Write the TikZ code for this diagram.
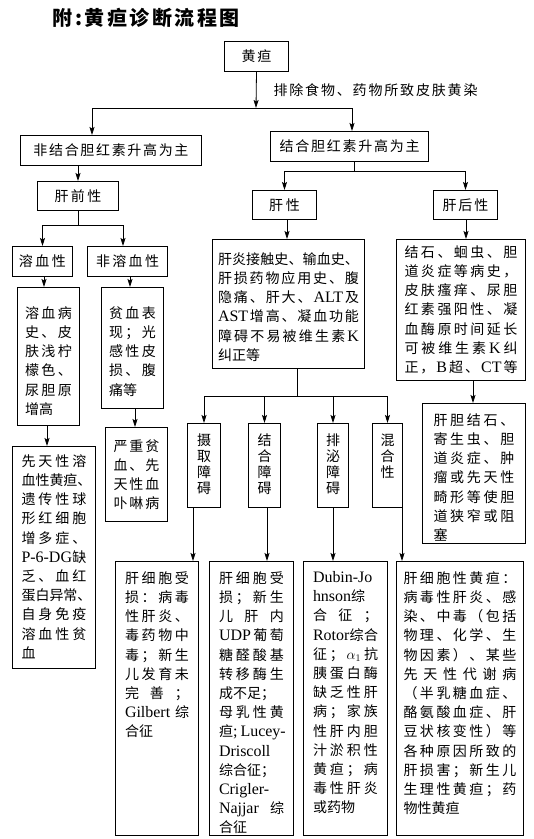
\documentclass[tikz,border=0pt]{standalone}
\usepackage{fontspec}
\setmainfont{Noto Sans CJK SC}
\newfontfamily\lat{Liberation Serif}[Scale=1.14]
\usetikzlibrary{arrows.meta}
\makeatletter
\def\jline#1{\hbox to\linewidth{\jl@a#1\relax}}
\def\jl@a#1{{#1}\jl@b}
\def\jl@b#1{\ifx\relax#1\else\hfil{#1}\expandafter\jl@b\fi}
\def\fline#1{\hbox{#1}}
\def\jwide#1#2{\hbox to#1{\jl@a#2\relax}}
\makeatother
\newcommand\tbox[8]{\node[box, anchor=north west, minimum width=#4pt] (#1) at (#2,#3) {\parbox[c][#5pt][t]{#6pt}{\vspace*{#7pt}#8}};}
\newcommand\onebox[6]{\node[box, anchor=north west, minimum width=#4pt, minimum height=#5pt] (#1) at (#2,#3) {#6};}
\tikzset{
  box/.style={draw, line width=1pt, inner sep=0pt, font=\fontsize{14}{19.2}\selectfont},
  arr/.style={-{Stealth[length=8pt,width=5pt,inset=1.5pt]}, line width=0.8pt},
  ln/.style={line width=0.8pt}
}
\begin{document}
\begin{tikzpicture}[x=1pt,y=-1pt]
\useasboundingbox (0,0) rectangle (534,839);
\fill[white] (0,0) rectangle (534,839);
\node[anchor=west, font=\fontsize{20}{24}\selectfont\bfseries] (title) at (49,18) {\jwide{187pt}{附:黄疸诊断流程图}};
% top
\onebox{hd}{224}{41}{64}{30}{\jwide{30pt}{黄疸}}
\node[anchor=west, font=\fontsize{14}{16}\selectfont] (lbl) at (270,90) {\jwide{204pt}{排除食物、药物所致皮肤黄染}};
\onebox{fj}{20}{135}{181}{30}{\jwide{155pt}{非结合胆红素升高为主}}
\onebox{jh}{270}{131}{158}{30}{\jwide{140pt}{结合胆红素升高为主}}
\onebox{gq}{37}{181}{81}{29}{\jwide{47pt}{肝前性}}
\onebox{gx}{252}{190}{64}{29}{\jwide{31pt}{肝性}}
\onebox{gh}{433}{190}{64}{29}{\jwide{46pt}{肝后性}}
\onebox{rx}{12}{246}{60}{30}{\jwide{47pt}{溶血性}}
\onebox{frx}{87}{246}{80}{30}{\jwide{63pt}{非溶血性}}
% left column
\tbox{rxbs}{17}{287}{62}{138}{47}{19}{\jline{溶血病}\jline{史、皮}\jline{肤浅柠}\jline{檬色、}\jline{尿胆原}\fline{增高}}
\tbox{pxbx}{101}{287}{62}{121}{47}{19}{\jline{贫血表}\jline{现；光}\jline{感性皮}\jline{损、腹}\fline{痛等}}
\tbox{yzpx}{105}{427}{62}{94}{46}{12}{\jline{严重贫}\jline{血、先}\jline{天性血}\jline{卟啉病}}
\tbox{xtx}{12}{446}{83}{222}{65}{8}{\jline{先天性溶}\jline{血性黄疸、}\jline{遗传性球}\jline{形红细胞}\jline{增多症、}\jline{{\lat P-6-DG}缺}\jline{乏、血红}\jline{蛋白异常、}\jline{自身免疫}\jline{溶血性贫}\fline{血}}
% right
\tbox{gyjc}{212}{239}{152}{129}{141}{13}{\jline{肝炎接触史、输血史、}\jline{肝损药物应用史、腹}\jline{隐痛、肝大、{\lat ALT}及}\jline{{\lat AST}增高、凝血功能}\jline{障碍不易被维生素{\lat K}}\fline{纠正等}}
\tbox{js}{396}{239}{129}{141}{113}{6}{\jline{结石、蛔虫、胆}\jline{道炎症等病史，}\jline{皮肤瘙痒、尿胆}\jline{红素强阳性、凝}\jline{血酶原时间延长}\jline{可被维生素{\lat K}纠}\jline{正，{\lat B}超、{\lat CT}等}}
\tbox{gdjs}{422}{403}{103}{140}{81}{10}{\jline{肝胆结石、}\jline{寄生虫、胆}\jline{道炎症、肿}\jline{瘤或先天性}\jline{畸形等使胆}\jline{道狭窄或阻}\fline{塞}}
% vertical boxes
\tbox{sq}{187}{423}{33}{84}{14}{10}{\fontsize{14}{16}\selectfont\fline{摄}\fline{取}\fline{障}\fline{碍}}
\tbox{jhza}{248}{423}{32}{84}{14}{10}{\fontsize{14}{16}\selectfont\fline{结}\fline{合}\fline{障}\fline{碍}}
\tbox{pm}{317}{423}{31}{84}{14}{10}{\fontsize{14}{16}\selectfont\fline{排}\fline{泌}\fline{障}\fline{碍}}
\tbox{hh}{372}{423}{30}{84}{14}{10}{\fontsize{14}{16}\selectfont\fline{混}\fline{合}\fline{性}}
% bottom boxes
\tbox{b1}{115}{561}{83}{274}{64}{10}{\jline{肝细胞受}\jline{损：病毒}\jline{性肝炎、}\jline{毒药物中}\jline{毒；新生}\jline{儿发育未}\jline{完善；}\jline{{\lat Gilbert}综}\fline{合征}}
\tbox{b2}{209}{561}{84}{274}{65}{10}{\jline{肝细胞受}\jline{损；新生}\jline{儿肝内}\jline{{\lat UDP}葡萄}\jline{糖醛酸基}\jline{转移酶生}\fline{成不足；}\jline{母乳性黄}\jline{疸{\lat; Lucey-}}\fline{\lat Driscoll}\fline{综合征；}\fline{\lat Crigler-}\jline{{\lat Najjar}综}\fline{合征}}
\tbox{b3}{303}{561}{84}{274}{65}{10}{\fline{\lat Dubin-Jo}\fline{{\lat hnson}综}\jline{合征；}\jline{{\lat Rotor}综合}\jline{征；{$\alpha_1$}抗}\jline{胰蛋白酶}\jline{缺乏性肝}\jline{病；家族}\jline{性肝内胆}\jline{汁淤积性}\jline{黄疸；病}\jline{毒性肝炎}\fline{或药物}}
\tbox{b4}{396}{561}{127}{274}{113}{10}{\jline{肝细胞性黄疸：}\jline{病毒性肝炎、感}\jline{染、中毒（包括}\jline{物理、化学、生}\jline{物因素）、某些}\jline{先天性代谢病}\jline{（半乳糖血症、}\jline{酪氨酸血症、肝}\jline{豆状核变性）等}\jline{各种原因所致的}\jline{肝损害；新生儿}\jline{生理性黄疸；药}\fline{物性黄疸}}
% connectors
\coordinate (j0) at (256,108);
\coordinate (jl) at (92,108);
\coordinate (jr) at (352,108);
\draw[arr] (hd.south) -- (j0);
\draw[ln] (jl) -- (jr);
\draw[arr] (jl) -- (jl |- fj.north);
\draw[arr] (jr) -- (jr |- jh.north);
\draw[arr] (gq.north |- fj.south) -- (gq.north);
\coordinate (j1) at (354,171);
\draw[ln] (j1 |- jh.south) -- (j1);
\draw[ln] (gx.north |- j1) -- (gh.north |- j1);
\draw[arr] (gx.north |- j1) -- (gx.north);
\draw[arr] (gh.north |- j1) -- (gh.north);
\coordinate (j2) at (78,225);
\coordinate (c123) at (123,225);
\draw[ln] (j2 |- gq.south) -- (j2);
\draw[ln] (rx.north |- j2) -- (c123);
\draw[arr] (rx.north |- j2) -- (rx.north);
\draw[arr] (c123) -- (c123 |- frx.north);
\coordinate (c44) at (44,0);
\coordinate (c130) at (130,0);
\coordinate (c135) at (135,0);
\coordinate (c47) at (47,0);
\draw[arr] (c44 |- rx.south) -- (c44 |- rxbs.north);
\draw[arr] (c130 |- frx.south) -- (c130 |- pxbx.north);
\draw[arr] (c135 |- pxbx.south) -- (c135 |- yzpx.north);
\draw[arr] (c47 |- rxbs.south) -- (c47 |- xtx.north);
\coordinate (c287) at (287,0);
\coordinate (c466) at (466,0);
\coordinate (c473) at (473,0);
\draw[arr] (c287 |- gx.south) -- (c287 |- gyjc.north);
\draw[arr] (c466 |- gh.south) -- (c466 |- js.north);
\draw[arr] (c473 |- js.south) -- (c473 |- gdjs.north);
\coordinate (j3) at (297,396);
\draw[ln] (j3 |- gyjc.south) -- (j3);
\draw[ln] (sq.north |- j3) -- (hh.north |- j3);
\draw[arr] (sq.north |- j3) -- (sq.north);
\draw[arr] (jhza.north |- j3) -- (jhza.north);
\draw[arr] (pm.north |- j3) -- (pm.north);
\draw[arr] (hh.north |- j3) -- (hh.north);
\coordinate (c193) at (193,0);
\coordinate (c267) at (267,0);
\coordinate (c333) at (333,0);
\coordinate (c402) at (402,0);
\draw[arr] (c193 |- sq.south) -- (c193 |- b1.north);
\draw[arr] (c267 |- jhza.south) -- (c267 |- b2.north);
\draw[arr] (c333 |- pm.south) -- (c333 |- b3.north);
\draw[arr] (c402 |- hh.south) -- (c402 |- b4.north);
\end{tikzpicture}
\end{document}
